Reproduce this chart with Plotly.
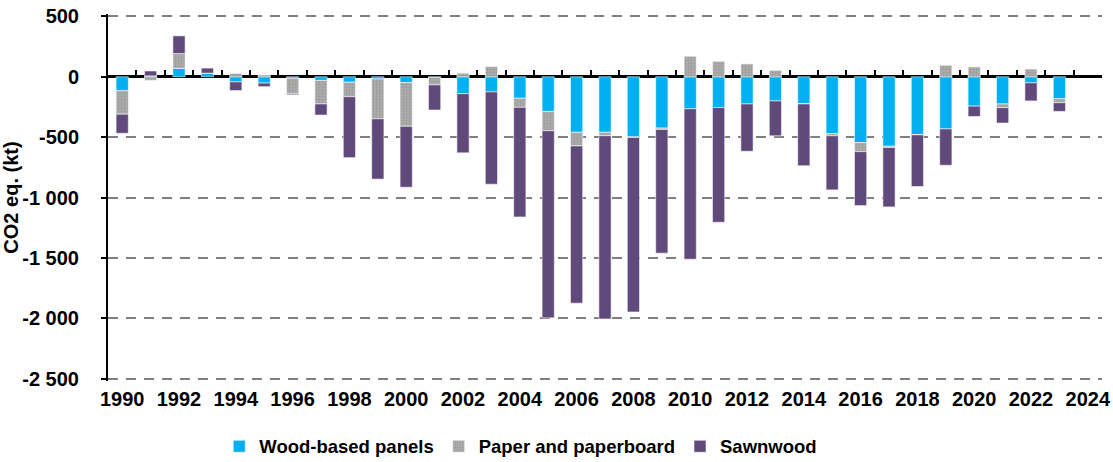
import plotly.graph_objects as go

years = list(range(1990, 2024))
wood_panels = [-115, 8, 70, 30, -42, -52, -12, -30, -45, -18, -48, -5, -140, -125, -178,
               -287, -460, -460, -498, -425, -265, -255, -225, -200, -222, -470, -545, -575,
               -478, -432, -243, -225, -50, -182]
paper = [-195, -30, 122, 0, 28, 15, -130, -195, -120, -330, -362, -62, 30, 85, -75,
         -160, -113, -28, -5, -11, 170, 128, 107, 53, -3, -19, -75, -11,
         -3, 95, 82, -31, 64, -33]
sawnwood = [-158, 40, 147, 42, -72, -30, -8, -92, -505, -500, -505, -208, -490, -765, -908,
            -1550, -1302, -1518, -1445, -1025, -1246, -950, -392, -289, -512, -448, -447, -492,
            -428, -301, -86, -127, -150, -72]

series_names = ["Wood-based panels", "Paper and paperboard", "Sawnwood"]
series_colors = ["#00B0F0", "#A6A6A6", "#604A7B"]

y_min, y_max = -2500, 500
y_tickvals = [500, 0, -500, -1000, -1500, -2000, -2500]
y_ticktext = ["500", "0", "-500", "-1 000", "-1 500", "-2 000", "-2 500"]
x_first, x_last = 1990, 2024

FONT = dict(family="Liberation Sans, Arial, sans-serif", color="black", weight="bold")

fig = go.Figure()
for name, vals, col in zip(series_names, [wood_panels, paper, sawnwood], series_colors):
    marker = dict(color=col, line=dict(color="rgba(255,255,255,0.7)", width=0.8))
    if name.startswith("Paper"):
        marker["pattern"] = dict(shape=".", bgcolor="#ACACAC", fgcolor="#9A9A9A",
                                 size=3, solidity=0.3, fillmode="replace")
    fig.add_trace(go.Bar(x=years, y=vals, name=name, marker=marker))

# invisible helper trace for the category axis drawn at the zero level
fig.add_trace(go.Scatter(x=[years[0]], y=[0.5], xaxis="x2", yaxis="y2", mode="markers",
                         marker=dict(opacity=0), showlegend=False, hoverinfo="skip"))

pad = 20
yr = [y_min - pad, y_max + pad]
zero_frac = (0 - yr[0]) / (yr[1] - yr[0])
xr = [x_first - 0.5, x_last + 0.5]
fig.update_layout(
    width=1113, height=462,
    margin=dict(l=108, r=11, t=14, b=81),
    paper_bgcolor="white", plot_bgcolor="rgba(0,0,0,0)",
    barmode="relative", bargap=0.57,
    font=dict(size=20, **FONT),
    showlegend=True,
    legend=dict(orientation="h", xref="container", yref="container",
                x=0.197, xanchor="left", y=0.033, yanchor="middle",
                font=dict(size=18.5, **FONT), itemwidth=30, traceorder="normal"),
    xaxis=dict(range=xr, tickmode="linear", tick0=x_first, dtick=2, automargin=False,
               showgrid=False, zeroline=False, showline=False, ticks="",
               tickfont=dict(size=20, **FONT), ticklabelstandoff=4),
    xaxis2=dict(range=xr, anchor="y2", domain=[0, 1],
                tickmode="linear", tick0=x_first - 0.5, dtick=1, automargin=False,
                showline=False, ticks="inside", ticklen=7, tickwidth=2, tickcolor="black",
                showticklabels=False, showgrid=False, zeroline=False),
    yaxis2=dict(domain=[zero_frac, 1], anchor="x2", range=[0, 1], visible=False,
                showgrid=False, zeroline=False),
    yaxis=dict(range=yr, tickmode="array", tickvals=y_tickvals, ticktext=y_ticktext,
               automargin=False,
               showgrid=True, gridcolor="#808080", gridwidth=2, griddash="10px,8px",
               zeroline=True, zerolinecolor="black", zerolinewidth=2.5,
               showline=True, linecolor="black", linewidth=2,
               ticks="outside", ticklen=5, tickwidth=2, tickcolor="black",
               tickfont=dict(size=20, **FONT), ticklabelstandoff=18,
               title=dict(text="CO2 eq. (kt)", font=dict(size=20, **FONT), standoff=1)),
)

fig.write_html("out.html", config={"displayModeBar": False},
               post_script="document.body.style.margin='0px';")
